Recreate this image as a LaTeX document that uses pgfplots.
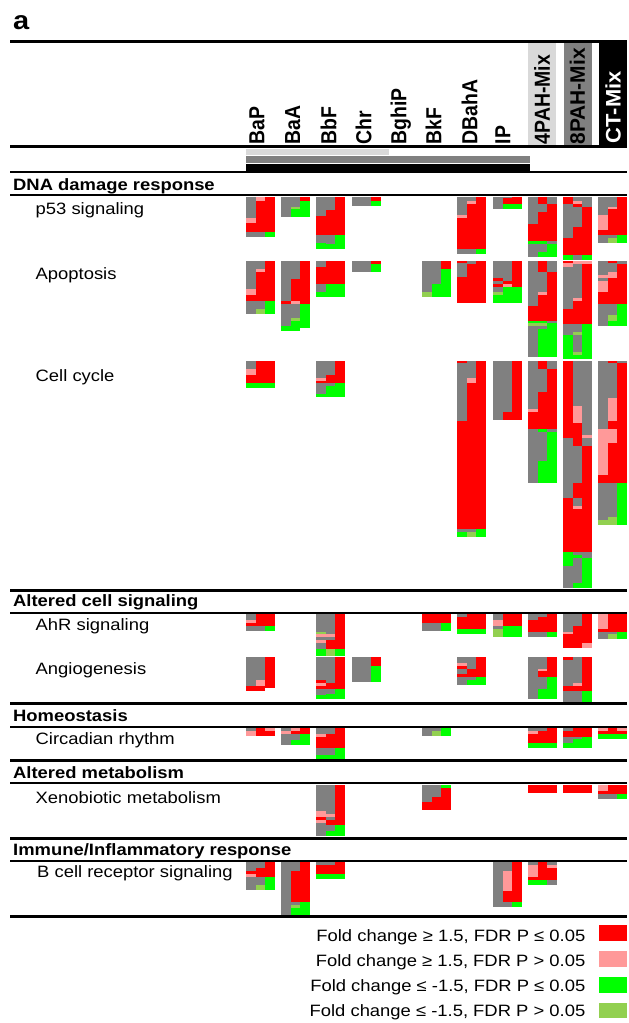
\documentclass[border=0pt]{standalone}
\usepackage{pgfplots}
\pgfplotsset{compat=1.18}
\usepackage{fontspec}
\setmainfont{Liberation Sans}
\usepackage{graphicx}

\definecolor{cR}{HTML}{FF0000}
\definecolor{cP}{HTML}{FF9999}
\definecolor{cG}{HTML}{00FF00}
\definecolor{cL}{HTML}{92D050}
\definecolor{cK}{HTML}{808080}
\definecolor{cH}{HTML}{D9D9D9}

\newcommand\seg[5]{%
  \pgfmathsetmacro\xa{#1+#2*9.667}%
  \pgfmathsetmacro\xb{#1+(#2+1)*9.667}%
  \edef\tmp{\noexpand\addplot[draw=none,fill=#5,forget plot] coordinates {(\xa,#3) (\xb,#3) (\xb,#4) (\xa,#4)} -- cycle;}%
  \tmp}
\newcommand\sub[4]{%
  \xdef\yprev{#3}%
  \foreach \y/\c in {#4} {%
    \seg{#1}{#2}{\yprev}{\y}{\c}%
    \xdef\yprev{\y}}}
\newcommand\blk[5]{\sub{#1}{0}{#2}{#3}\sub{#1}{1}{#2}{#4}\sub{#1}{2}{#2}{#5}}
\newcommand\rect[5]{\addplot[draw=none,fill=#5,forget plot] coordinates {(#1,#2) (#3,#2) (#3,#4) (#1,#4)} -- cycle;}
\newcommand\hl[2]{\addplot[black,line width=#2bp,forget plot] coordinates {(10,#1) (627,#1)};}
\newcommand\fs[1]{\fontsize{#1}{#1}\selectfont}
\newcommand\hs[1]{\scalebox{1.12}[1]{#1}}

\begin{document}
\begin{tikzpicture}
\begin{axis}[scale only axis, width=627bp, height=1023bp,
  xmin=0, xmax=627, ymin=0, ymax=1023, y dir=reverse,
  hide axis, clip=false]
\addplot[draw=none,forget plot] coordinates {(0,0) (627,1023)};
% header backgrounds
\rect{528.3}{42}{556}{146}{cH}
\rect{564}{42}{591.7}{146}{cK}
\rect{599.3}{42}{627}{146}{black}
% header bars
\rect{246}{148.7}{389}{155.3}{cH}
\rect{246}{156}{530}{163.3}{cK}
\rect{246}{163.8}{530}{171.5}{black}
% lines
\hl{41.3}{3}
\hl{146.7}{3}
\hl{172}{2.5}
\hl{195}{2}
\hl{590}{3}
\hl{612.7}{2}
\hl{703.3}{3}
\hl{726.7}{2}
\hl{760}{3}
\hl{783.3}{2}
\hl{838.3}{3}
\hl{860.7}{2}
\hl{916.7}{3}

% ===== p53 signaling (top 197)
\blk{246}{197}{218.3/cK, 223.3/cP, 231.7/cR, 236.7/cK}{200.7/cP, 231.7/cR, 236.7/cK}{231.7/cR, 236.7/cG}
\blk{281}{197}{216.7/cK}{206.7/cK, 209.3/cL, 216.7/cG}{200.7/cR, 216.7/cG}
\blk{316}{197}{216/cK, 235/cR, 243.3/cK, 249/cG}{210/cK, 235/cR, 244/cK, 249/cG}{235/cR, 249/cG}
\blk{352}{197}{205.7/cK}{205.7/cK}{201/cR, 205.7/cG}
\blk{457}{197}{215/cK, 217.7/cP, 249/cR, 254/cK}{201/cK, 204/cP, 249/cR, 254/cK}{249/cR, 254/cG}
\blk{493}{197}{209/cK}{198.3/cK, 204/cR, 209/cG}{204/cR, 209/cG}
\blk{528}{197}{224/cK, 241/cR, 243.7/cG, 257.3/cK}{204/cR, 212.3/cK, 241/cR, 243.7/cG, 251.7/cK, 257.3/cG}{204/cK, 241/cR, 243.7/cK, 257.3/cG}
\blk{563}{197}{204/cR, 238.3/cK, 255/cR, 260/cG}{201/cK, 204/cP, 206.7/cR, 226.7/cK, 255/cR, 260/cK}{206.7/cK, 255/cR, 260/cG}
\blk{598}{197}{215/cK, 230/cP, 235/cR, 242.7/cK}{206.7/cK, 209.3/cP, 235/cR, 238.3/cK, 242.7/cL}{235/cR, 242.7/cG}

% ===== Apoptosis (top 261)
\blk{246}{261}{289/cK, 295/cP, 300.7/cR, 314/cK}{269/cK, 271.7/cP, 300.7/cR, 309/cK, 314/cL}{300.7/cR, 314/cG}
\blk{281}{261}{301/cK, 304/cR, 325.7/cK, 330.7/cG}{279/cK, 301/cR, 304/cP, 317.7/cK, 320.7/cL, 330.7/cG}{304/cR, 328.3/cG}
\blk{316}{261}{267.3/cK, 284/cR, 291.7/cK, 296.7/cG}{284/cR, 296.7/cG}{284/cR, 296.7/cG}
\blk{352}{261}{271.7/cK}{271.7/cK}{264/cR, 271.7/cG}
\blk{422}{261}{291.7/cK, 296.7/cL}{284/cK, 296.7/cG}{269/cR, 296.7/cG}
\blk{457}{261}{263.3/cR, 276.7/cK, 302.7/cR}{264/cK, 302.7/cR}{302.7/cR}
\blk{493}{261}{277.7/cK, 280.7/cR, 283.7/cK, 286.7/cR, 291.7/cK, 295/cL, 302.7/cG}{280.7/cK, 283.7/cR, 286.7/cP, 302.7/cG}{286.7/cR, 302.7/cG}
\blk{528}{261}{306/cK, 321/cR, 323.3/cG, 325.7/cL, 356.7/cK}{271.7/cR, 292.3/cK, 295/cP, 321/cR, 323.3/cG, 325.7/cL, 329/cK, 356.7/cG}{271.7/cK, 321/cR, 323.3/cK, 356.7/cG}
\blk{563}{261}{263.3/cR, 266.7/cP, 309/cK, 324/cR, 335/cK, 359.3/cG}{264/cP, 298/cK, 300.7/cP, 324/cR, 332.3/cK, 335/cL, 351.7/cK, 355/cL, 359.3/cG}{264/cP, 324/cR, 359.3/cG}
\blk{598}{261}{275/cK, 278.3/cP, 281/cK, 291.7/cP, 304/cR, 325.7/cK}{263.3/cR, 271.7/cK, 277.7/cP, 304/cR, 315/cK, 320.7/cL, 325.7/cG}{264/cK, 304/cR, 325.7/cG}

% ===== Cell cycle (top 361)
\blk{246}{361}{369/cK, 375/cP, 383/cR, 388/cG}{383/cR, 388/cG}{383/cR, 388/cG}
\blk{316}{361}{378/cK, 381/cP, 383/cR, 394/cK, 397/cG}{375/cK, 383/cR, 386/cK, 397/cG}{383/cR, 397/cG}
\blk{457}{361}{363/cR, 421/cK, 529/cR, 532/cK, 537/cG}{378/cK, 383/cP, 529/cR, 532/cK, 537/cL}{529/cR, 537/cG}
\blk{493}{361}{420/cK}{412/cK, 420/cR}{420/cR}
\blk{528}{361}{409/cK, 412/cP, 429/cR, 483/cK}{369/cR, 392/cK, 429/cR, 431.7/cG, 461/cK, 483/cG}{369/cK, 429/cR, 431.7/cK, 483/cG}
\blk{563}{361}{438/cR, 498/cK, 552/cR, 566/cG, 588/cK}{406/cK, 423/cP, 446/cR, 483/cK, 498/cR, 506/cK, 509/cP, 552/cR, 555/cK, 558/cG, 583/cK, 588/cG}{435/cK, 438/cP, 446/cK, 552/cR, 558/cK, 588/cG}
\blk{598}{361}{429/cK, 475/cP, 483/cR, 520/cK, 525/cL}{363/cR, 398/cK, 421/cP, 429/cR, 443/cP, 483/cR, 517/cK, 525/cL}{363/cK, 483/cR, 525/cG}

% ===== AhR signaling (top 614)
\blk{246}{614}{620/cK, 623/cP, 626/cR, 631/cK}{626/cR, 631/cK}{626/cR, 631/cG}
\blk{316}{614}{632/cK, 634/cL, 637/cP, 640/cK, 643/cP, 649/cK, 656/cG}{634/cK, 637/cP, 640/cK, 649/cR, 656/cL}{649/cR, 656/cG}
\blk{422}{614}{623/cR, 631/cK}{623/cR, 631/cK}{623/cR, 631/cG}
\blk{457}{614}{617/cK, 629/cR, 634/cG}{629/cR, 634/cG}{629/cR, 634/cG}
\blk{493}{614}{620/cK, 626/cP, 629/cK, 637/cL}{626/cR, 637/cG}{626/cR, 637/cG}
\blk{528}{614}{620/cK, 632/cR, 637/cK}{617/cK, 632/cR, 637/cK}{632/cR, 637/cG}
\blk{563}{614}{632/cK, 634/cP, 648/cR}{626/cK, 648/cR}{643/cR, 648/cP}
\blk{598}{614}{629/cP, 632/cR, 639/cK}{632/cR, 634/cK, 639/cL}{632/cR, 639/cG}

% ===== Angiogenesis (top 657)
\blk{246}{657}{686/cK, 691/cR}{680/cK, 686/cP, 691/cR}{688/cR}
\blk{316}{657}{680/cK, 683/cR, 686/cP, 689/cR, 695/cK, 699/cG}{683/cK, 689/cR, 694/cK, 699/cG}{689/cR, 699/cG}
\blk{352}{657}{682/cK}{682/cK}{666/cR, 682/cG}
\blk{457}{657}{663/cK, 666/cP, 669/cR, 674/cK, 677/cR, 685/cK}{669/cK, 677/cR, 680/cK, 685/cG}{677/cR, 685/cG}
\blk{528}{657}{699/cK}{669/cK, 671/cP, 677/cR, 689/cK, 699/cG}{677/cR, 699/cG}
\blk{563}{657}{660/cR, 686/cK, 691/cR, 702/cK}{683/cK, 686/cP, 691/cR, 702/cK}{691/cR, 702/cG}

% ===== Circadian rhythm (top 728)
\blk{246}{728}{731/cK, 736/cP}{736/cR}{731/cP, 736/cR}
\blk{281}{728}{731/cK, 734/cP, 745/cK}{731/cP, 734/cR, 740/cK, 745/cG}{734/cR, 745/cG}
\blk{316}{728}{734/cK, 737/cP, 748/cR, 755/cK, 759/cG}{734/cK, 748/cR, 755/cK, 759/cG}{748/cR, 759/cG}
\blk{422}{728}{736/cK}{731/cK, 736/cL}{736/cG}
\blk{528}{728}{731/cK, 734/cP, 743/cR, 748/cG}{731/cK, 743/cR, 748/cG}{743/cR, 748/cG}
\blk{563}{728}{731/cK, 737/cR, 743/cK, 748/cG}{737/cR, 739/cK, 748/cG}{737/cR, 748/cG}
\blk{598}{728}{731/cP, 734/cR, 739/cG}{734/cR, 739/cG}{731/cP, 734/cR, 739/cG}

% ===== Xenobiotic metabolism (top 785)
\blk{316}{785}{811/cK, 817/cP, 820/cR, 823/cP, 836/cK}{814/cK, 817/cP, 820/cK, 825/cR, 831/cK, 836/cG}{825/cR, 836/cG}
\blk{422}{785}{802/cK, 810/cR}{797/cK, 810/cR}{788/cG, 810/cR}
\blk{528}{785}{793/cR}{793/cR}{793/cR}
\blk{563}{785}{793/cR}{793/cR}{793/cR}
\blk{598}{785}{791/cP, 794/cR, 799/cK}{794/cR, 799/cK}{794/cR, 799/cG}

% ===== B cell receptor signaling (top 862)
\blk{246}{862}{871/cK, 874/cR, 877/cP, 890/cK}{868/cK, 877/cR, 885/cK, 890/cL}{877/cR, 890/cG}
\blk{281}{862}{915/cK}{871/cK, 902/cR, 905/cK, 908/cL, 915/cG}{902/cR, 915/cG}
\blk{316}{862}{865/cK, 874/cR, 879/cG}{865/cK, 874/cR, 879/cG}{874/cR, 879/cG}
\blk{493}{862}{907/cK}{871/cK, 891/cP, 902/cR, 907/cK}{902/cR, 907/cG}
\blk{528}{862}{865/cK, 877/cP, 880/cR, 885/cG}{880/cR, 885/cG}{865/cK, 868/cP, 880/cR, 885/cK}

% legend swatches
\rect{599.3}{925}{626.5}{940.7}{cR}
\rect{599.3}{951}{626.5}{966.7}{cP}
\rect{599.3}{977}{626.5}{992.7}{cG}
\rect{599.3}{1002.7}{626.5}{1017.7}{cL}

% texts
\node[anchor=base west,inner sep=0,font=\fs{26}\bfseries] at (axis cs:13,30) {\hs{a}};
\begin{scope}[every node/.style={anchor=south west,inner sep=0,font=\fs{19.5}\bfseries}]
\node at (axis cs:249.3,144.5) {\hs{\rotatebox{90}{BaP}}};
\node at (axis cs:285,144.5) {\hs{\rotatebox{90}{BaA}}};
\node at (axis cs:320.3,144.5) {\hs{\rotatebox{90}{BbF}}};
\node at (axis cs:355.3,144.5) {\hs{\rotatebox{90}{Chr}}};
\node at (axis cs:390.3,144.5) {\hs{\rotatebox{90}{BghiP}}};
\node at (axis cs:425.3,144.5) {\hs{\rotatebox{90}{BkF}}};
\node at (axis cs:461.3,144.5) {\hs{\rotatebox{90}{DBahA}}};
\node at (axis cs:495.3,144.5) {\hs{\rotatebox{90}{IP}}};
\node at (axis cs:534,144.5) {\hs{\rotatebox{90}{4PAH-Mix}}};
\node[font=\fs{21}\bfseries] at (axis cs:569.5,144.5) {\scalebox{1.0}[1]{\rotatebox{90}{8PAH-Mix}}};
\node[text=white,font=\fs{22}\bfseries] at (axis cs:605.2,143.5) {\scalebox{0.96}[1]{\rotatebox{90}{CT-Mix}}};
\end{scope}
\begin{scope}[every node/.style={anchor=base west,inner sep=0,font=\fs{16.5}\bfseries}]
\node at (axis cs:13,190.7) {\hs{DNA damage response}};
\node at (axis cs:13,606.7) {\hs{Altered cell signaling}};
\node at (axis cs:13,721.7) {\hs{Homeostasis}};
\node at (axis cs:13,778.3) {\hs{Altered metabolism}};
\node at (axis cs:13,855) {\hs{Immune/Inflammatory response}};
\end{scope}
\begin{scope}[every node/.style={anchor=base west,inner sep=0,font=\fs{16.5}}]
\node at (axis cs:35.5,214) {\hs{p53 signaling}};
\node at (axis cs:35.5,279.5) {\hs{Apoptosis}};
\node at (axis cs:35.5,381) {\hs{Cell cycle}};
\node at (axis cs:35.5,630) {\hs{AhR signaling}};
\node at (axis cs:35.5,674.5) {\hs{Angiogenesis}};
\node at (axis cs:35.5,744.3) {\hs{Circadian rhythm}};
\node at (axis cs:35.5,803.3) {\hs{Xenobiotic metabolism}};
\node at (axis cs:37,877.3) {\hs{B cell receptor signaling}};
\end{scope}
\begin{scope}[every node/.style={anchor=base east,inner sep=0,font=\fs{16.5}}]
\node at (axis cs:585.5,941.7) {\hs{Fold change ≥ 1.5, FDR P ≤ 0.05}};
\node at (axis cs:585.5,966.7) {\hs{Fold change ≥ 1.5, FDR P > 0.05}};
\node at (axis cs:585.5,991.7) {\hs{Fold change ≤ -1.5, FDR P ≤ 0.05}};
\node at (axis cs:585.5,1016.7) {\hs{Fold change ≤ -1.5, FDR P > 0.05}};
\end{scope}
\end{axis}
\end{tikzpicture}
\end{document}
